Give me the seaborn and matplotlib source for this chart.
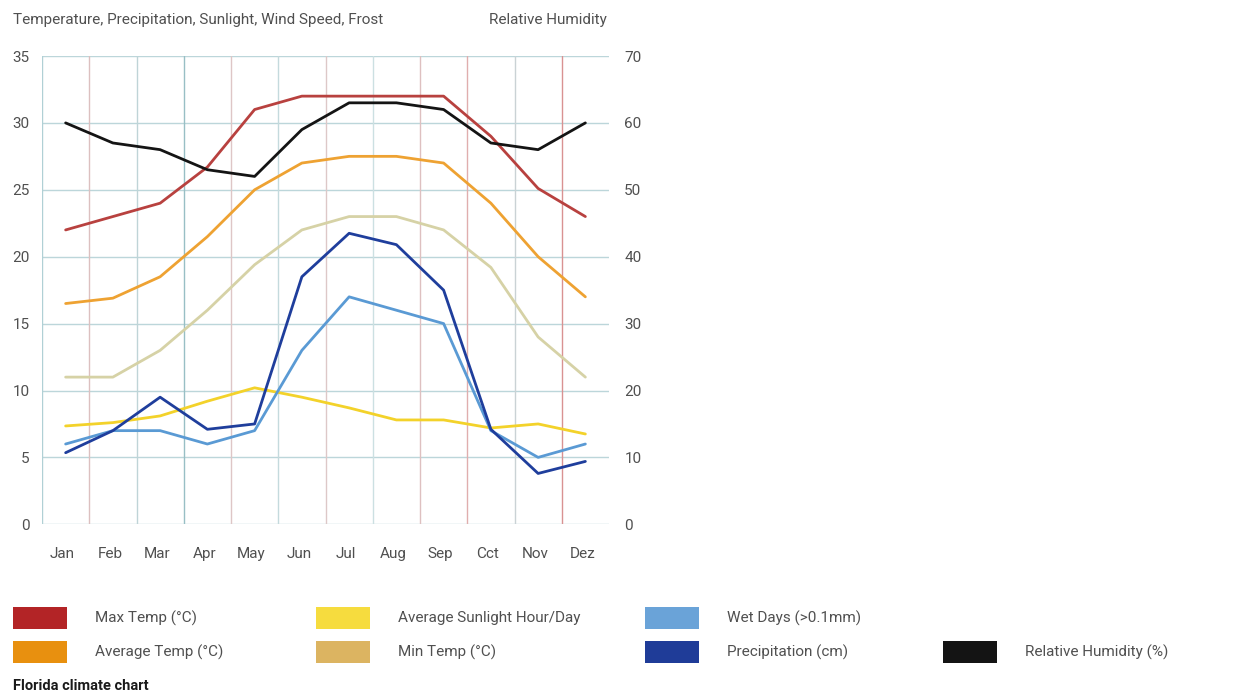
import matplotlib
matplotlib.use("Agg")
import matplotlib.pyplot as plt
import matplotlib.transforms as mtransforms
import pandas as pd
import seaborn as sns
from matplotlib.patches import Rectangle

# Monthly climate values
months = ["Jan", "Feb", "Mar", "Apr", "May", "Jun", "Jul", "Aug", "Sep", "Cct", "Nov", "Dez"]
max_temp = [22, 23, 24, 26.7, 31, 32, 32, 32, 32, 29, 25.1, 23]
avg_temp = [16.5, 16.9, 18.5, 21.5, 25, 27, 27.5, 27.5, 27, 24, 20, 17]
min_temp = [11, 11, 13, 16, 19.4, 22, 23, 23, 22, 19.2, 14, 11]
sunlight = [7.35, 7.6, 8.1, 9.2, 10.2, 9.5, 8.7, 7.8, 7.8, 7.2, 7.5, 6.75]
wet_days = [6, 7, 7, 6, 7, 13, 17, 16, 15, 7, 5, 6]
precipitation = [5.35, 7, 9.5, 7.1, 7.5, 18.5, 21.75, 20.9, 17.5, 7.1, 3.8, 4.7]
humidity = [60, 57, 56, 53, 52, 59, 63, 63, 62, 57, 56, 60]

left_ticks = [0, 5, 10, 15, 20, 25, 30, 35]
right_ticks = [0, 10, 20, 30, 40, 50, 60, 70]

series_names = ["Min Temp (°C)", "Average Temp (°C)", "Average Sunlight Hour/Day",
                "Wet Days (>0.1mm)", "Precipitation (cm)", "Max Temp (°C)"]
series_values = [min_temp, avg_temp, sunlight, wet_days, precipitation, max_temp]
line_colors = {
    "Min Temp (°C)": "#d6d2a6",
    "Average Temp (°C)": "#eea232",
    "Average Sunlight Hour/Day": "#f3d22a",
    "Wet Days (>0.1mm)": "#5a9ad4",
    "Precipitation (cm)": "#1f3e9c",
    "Max Temp (°C)": "#b8413f",
}

df = pd.DataFrame({
    "month": months * len(series_names),
    "series": [n for n in series_names for _ in months],
    "value": [v for vals in series_values for v in vals],
})

sns.set_theme(style="white")
plt.rcParams["font.family"] = ["Roboto", "DejaVu Sans"]
text_col = "#505050"

fig = plt.figure(figsize=(12.37, 6.93), dpi=100)
ax = fig.add_axes([42 / 1237, (693 - 524.3) / 693, (609 - 42) / 1237, (524.3 - 56) / 693])

# grid: horizontal every 5 units, vertical between months
for y in left_ticks:
    ax.axhline(y, color="#bcd6da", lw=1.0, zorder=0)
vcols = ["#b0d0d5", "#dcc0c0", "#bfd4d7", "#98bfc5", "#dec6c6", "#c4dadd",
         "#ddc8c8", "#cce0e2", "#dec0c0", "#e0aeae", "#cad2d5", "#d99292"]
for i, c in enumerate(vcols):
    ax.axvline(i - 0.5, color=c, lw=1.0, zorder=0)

sns.lineplot(data=df, x="month", y="value", hue="series", hue_order=series_names,
             palette=line_colors, sort=False, legend=False, ax=ax, lw=2.0,
             solid_joinstyle="round", solid_capstyle="round", zorder=3)

ax.set_xlim(-0.5, 11.5)
ax.set_ylim(0, 35)
ax.set_yticks(left_ticks)
ax.set_xlabel("")
ax.set_ylabel("")
for s in ax.spines.values():
    s.set_visible(False)
ax.tick_params(axis="y", length=0, pad=9, labelsize=11, labelcolor=text_col)
ax.tick_params(axis="x", length=0, pad=16, labelsize=11, labelcolor=text_col)
shift = mtransforms.ScaledTranslation(-3 / 100, 0, fig.dpi_scale_trans)
for lab in ax.get_xticklabels():
    lab.set_transform(lab.get_transform() + shift)

ax2 = ax.twinx()
sns.lineplot(x=months, y=humidity, ax=ax2, color="#141414", lw=2.0, sort=False,
             solid_joinstyle="round", zorder=4)
ax2.set_xlim(-0.5, 11.5)
ax2.set_ylim(0, 70)
ax2.set_yticks(right_ticks)
ax2.set_ylabel("")
for s in ax2.spines.values():
    s.set_visible(False)
ax2.tick_params(axis="y", length=0, pad=11, labelsize=11, labelcolor=text_col)
ax2.grid(False)

fig.text(13 / 1237, 1 - 20 / 693, "Temperature, Precipitation, Sunlight, Wind Speed, Frost",
         fontsize=11, color=text_col, va="center", ha="left")
fig.text(607 / 1237, 1 - 20 / 693, "Relative Humidity",
         fontsize=11, color=text_col, va="center", ha="right")

# legend swatches
legend_items = [
    (13, 618, "#b32426", "Max Temp (°C)"),
    (13, 652, "#e8900f", "Average Temp (°C)"),
    (316, 618, "#f6dc3e", "Average Sunlight Hour/Day"),
    (316, 652, "#dcb461", "Min Temp (°C)"),
    (645, 618, "#6aa3d8", "Wet Days (>0.1mm)"),
    (645, 652, "#1f3c98", "Precipitation (cm)"),
    (943, 652, "#141414", "Relative Humidity (%)"),
]
for x0, yc, col, label in legend_items:
    fig.add_artist(Rectangle((x0 / 1237, 1 - (yc + 11) / 693), 54 / 1237, 22 / 693,
                             transform=fig.transFigure, facecolor=col, edgecolor="none"))
    fig.text((x0 + 82) / 1237, 1 - yc / 693, label, fontsize=11, color=text_col,
             va="center", ha="left")

fig.text(13 / 1237, 1 - 686 / 693, "Florida climate chart", fontsize=10.5,
         fontweight="bold", color="#1a1a1a", va="center", ha="left")

fig.savefig("out.png", dpi=100, facecolor="white")
